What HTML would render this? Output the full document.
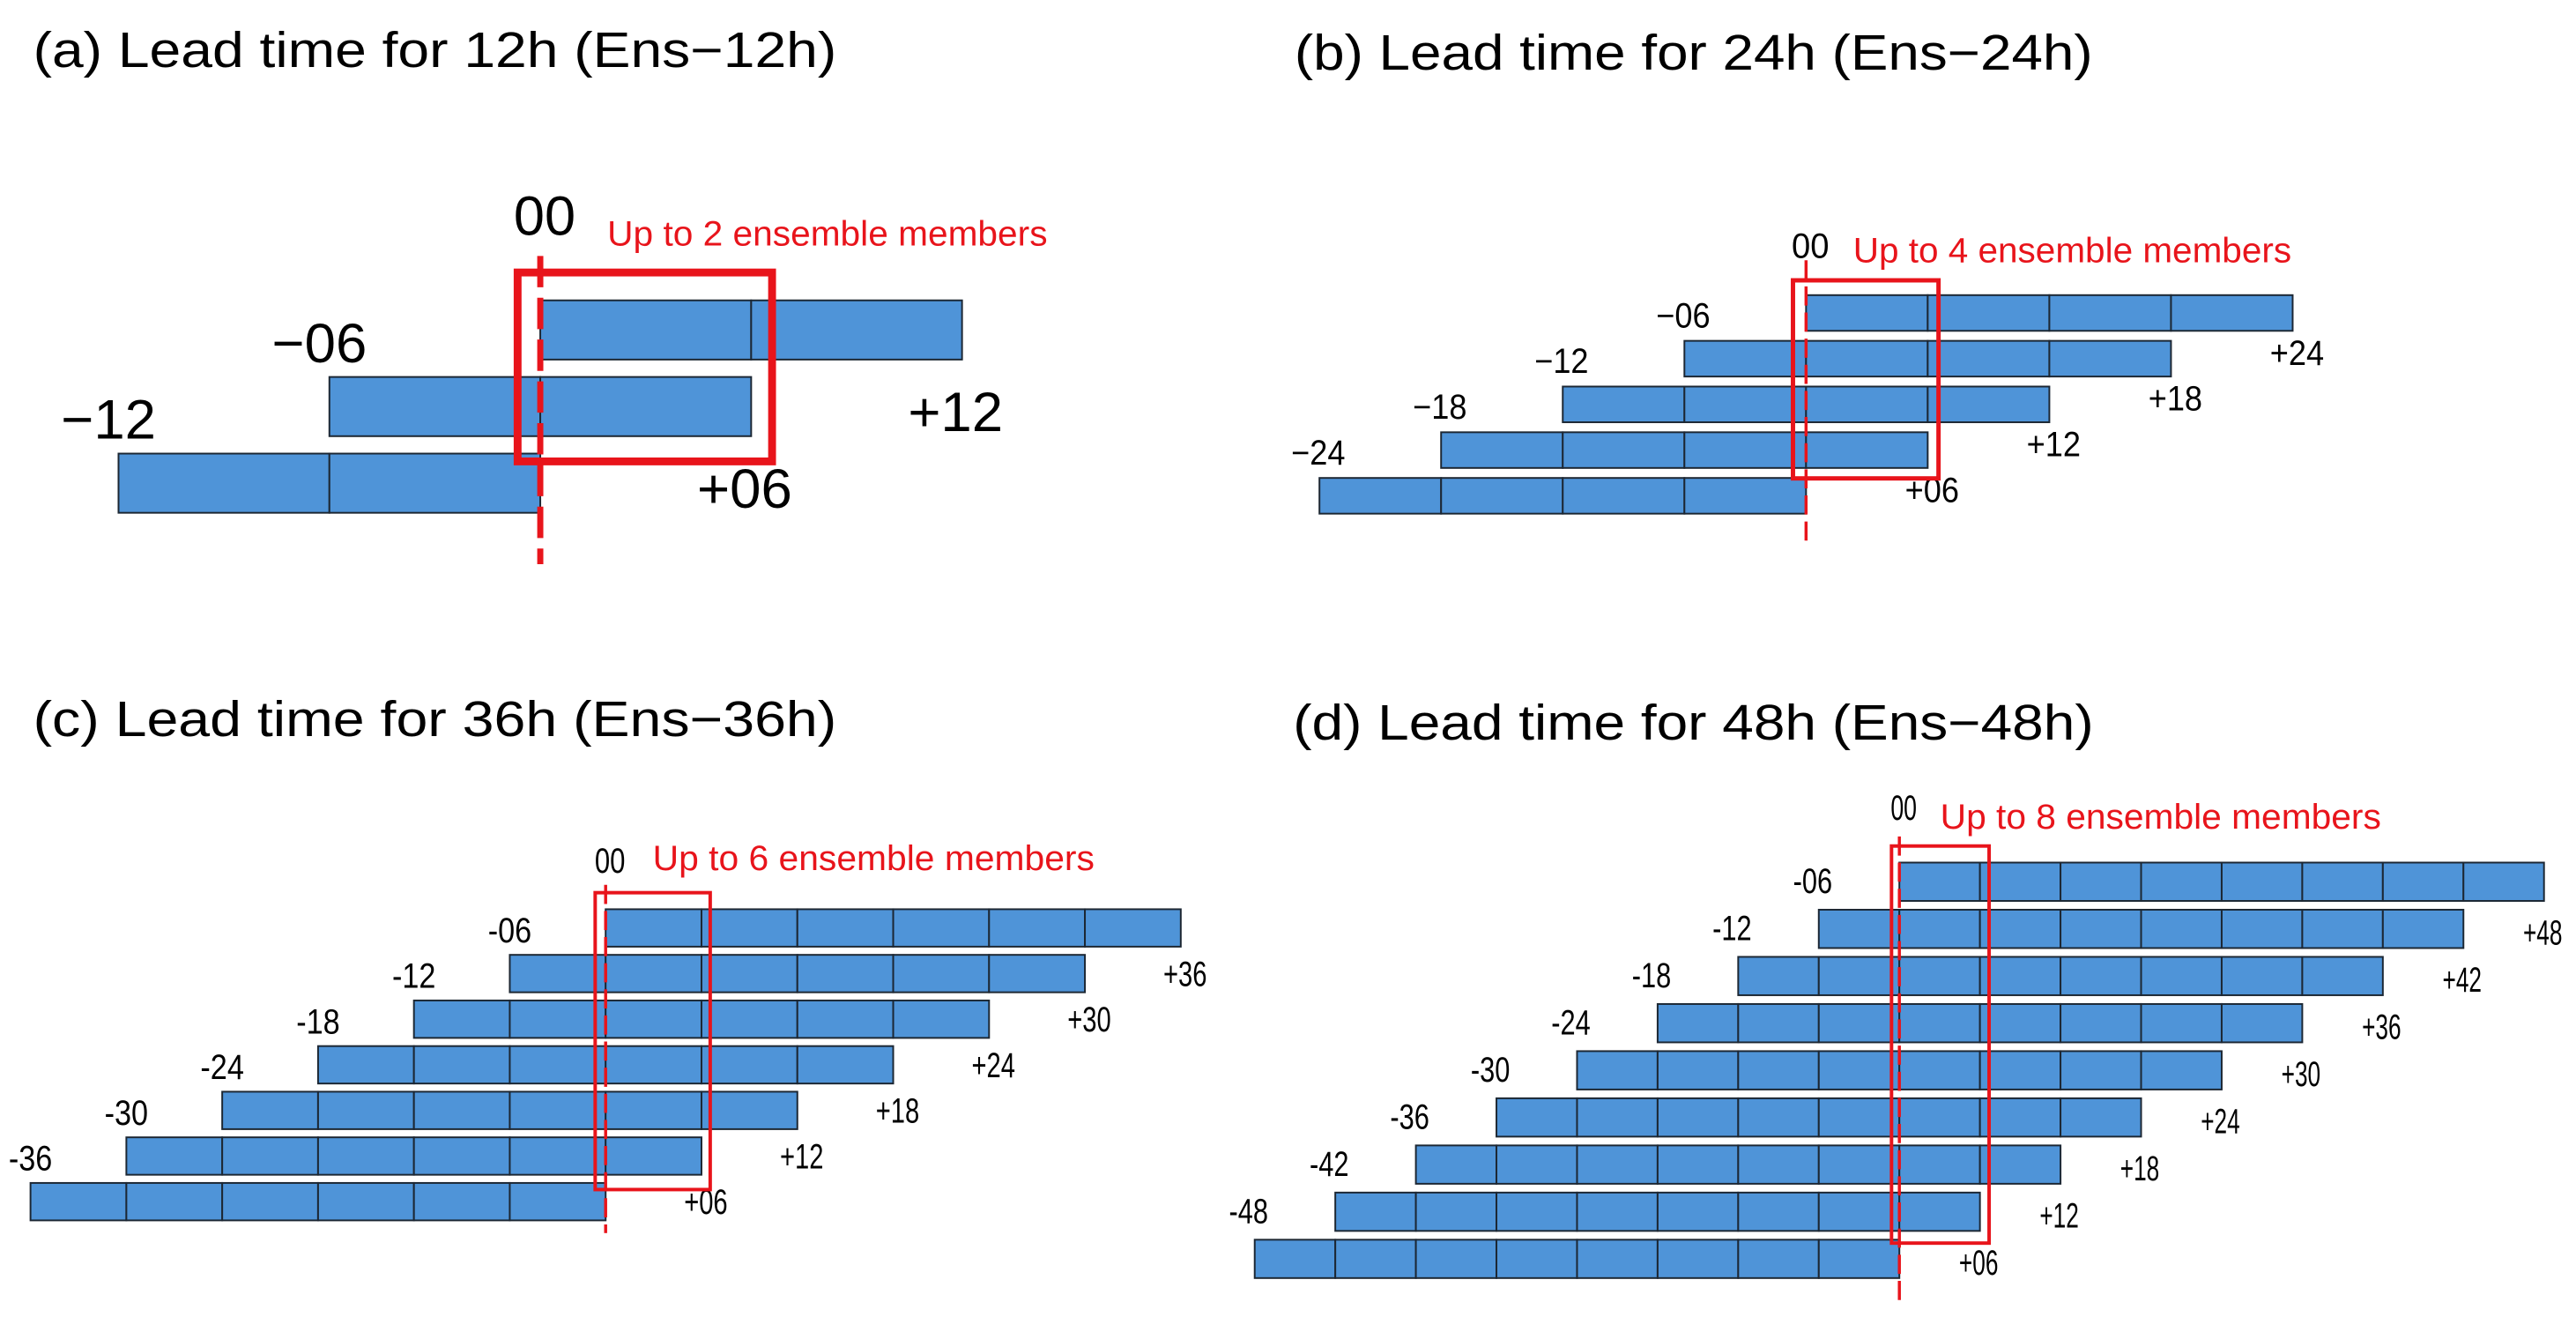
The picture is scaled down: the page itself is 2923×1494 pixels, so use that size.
<!DOCTYPE html>
<html><head><meta charset="utf-8"><style>
html,body{margin:0;padding:0;background:#fff;}
svg{display:block;}
text{font-family:"Liberation Sans",sans-serif;}
</style></head>
<body>
<svg id="fig" width="2923" height="1494" viewBox="0 0 2923 1494" xmlns="http://www.w3.org/2000/svg"></svg>
<script>
// ---- data (hours) ----
const titles = ["(a) Lead time for 12h (Ens\u221212h)","(b) Lead time for 24h (Ens\u221224h)","(c) Lead time for 36h (Ens\u221236h)","(d) Lead time for 48h (Ens\u221248h)"];
const memberNotes = ["Up to 2 ensemble members","Up to 4 ensemble members","Up to 6 ensemble members","Up to 8 ensemble members"];
const startsA = [0,-6,-12];
const endsA = [12,6,0];
const startsB = [0,-6,-12,-18,-24];
const endsB = [24,18,12,6,0];
const startsC = [0,-6,-12,-18,-24,-30,-36];
const endsC = [36,30,24,18,12,6,0];
const startsD = [0,-6,-12,-18,-24,-30,-36,-42,-48];
const endsD = [48,42,36,30,24,18,12,6,0];
const leftLabelsA = ["\u221206","\u221212"];
const leftLabelsB = ["\u221206","\u221212","\u221218","\u221224"];
const leftLabelsC = ["-06","-12","-18","-24","-30","-36"];
const leftLabelsD = ["-06","-12","-18","-24","-30","-36","-42","-48"];
const rightLabelsA = ["+12","+06"];
const rightLabelsB = ["+24","+18","+12","+06"];
const rightLabelsC = ["+36","+30","+24","+18","+12","+06"];
const rightLabelsD = ["+48","+42","+36","+30","+24","+18","+12","+06"];
const cellHours = 6;

// ---- layout (pixels) ----
const panels = [
 {starts:startsA, ends:endsA, L:leftLabelsA, R:rightLabelsA, x0:620, cell:242, top:345, pitch:88, h:68,
  ldx:-199, ldy:71, rdx:-62, rdy:150, lfs:64, lw:109, zfs:64, zw:71, zy:270, nx:697, ny:282, nfs:40, nw:505,
  tx:38, ty:77, tw:922, dash:[294,648], dw:7, da:"36 12", bx:[-26,266], by:[-32,29], bw:9,
  ox:0, oy:0, sx:0.9888, sy:0.9876},
 {starts:startsB, ends:endsB, L:leftLabelsB, R:rightLabelsB, x0:2056, cell:139.6, top:339, pitch:52.5, h:41,
  ldx:-110, ldy:37, rdx:-26, rdy:80, lfs:40, lw:62, zfs:40, zw:43, zy:296, nx:2110, ny:301, nfs:40, nw:503,
  tx:1469, ty:80, tw:916, dash:[299,622], dw:3.5, da:"22 8", bx:[-15,152], by:[-17,12], bw:5,
  ox:1461, oy:0, sx:0.9888, sy:0.9876},
 {starts:startsC, ends:endsC, L:leftLabelsC, R:rightLabelsC, x0:695, cell:110, top:1035, pitch:52.4, h:43,
  ldx:-85, ldy:38, rdx:-20, rdy:88, lfs:40, lw:50, zfs:40, zw:35, zy:993, nx:749, ny:990, nfs:40, nw:507,
  tx:38, ty:836, tw:922, dash:[1007,1407], dw:3.5, da:"22 8", bx:[-12,120], by:[-19,17], bw:4,
  ox:0, oy:747, sx:0.9888, sy:0.9876},
 {starts:startsD, ends:endsD, L:leftLabelsD, R:rightLabelsD, x0:2164, cell:92.5, top:980, pitch:54.1, h:44,
  ldx:-77, ldy:35, rdx:-24, rdy:94, lfs:40, lw:45, zfs:40, zw:30, zy:931, nx:2211, ny:941, nfs:40, nw:506,
  tx:1468, ty:839, tw:919, dash:[950,1486], dw:3.5, da:"22 8", bx:[-9,103], by:[-19,14], bw:4,
  ox:1400, oy:850, sx:0.9885, sy:0.9885}
];
const NS = "http://www.w3.org/2000/svg";
const svg = document.getElementById("fig");
function mk(tag, attrs, parent){ const e=document.createElementNS(NS,tag); for(const k in attrs) e.setAttribute(k,attrs[k]); (parent||svg).appendChild(e); return e; }
const letters = ["a","b","c","d"];
panels.forEach((p, pi) => {
  const g = mk("g", {transform:`translate(${p.ox},${p.oy}) scale(${p.sx},${p.sy}) translate(${-p.ox},${-p.oy})`});
  
  
  const xs = hr => p.x0 + hr / cellHours * p.cell;
  const ys = i => p.top + i * p.pitch;
  const t = mk("text", {x:p.tx, y:p.ty, "font-size":57, fill:"#000", textLength:p.tw, lengthAdjust:"spacingAndGlyphs"}, g);
  t.textContent = titles[pi];
  
  
  p.starts.forEach((s, i) => {
    const e = p.ends[i];
    const bar = mk("g", {}, g);
    
    
    for (let hr = s; hr < e; hr += cellHours) {
      const c = mk("rect", {x:xs(hr), y:ys(i), width:xs(hr+cellHours)-xs(hr), height:p.h, fill:"#4f94d8", stroke:"#1c2733", "stroke-width":2}, bar);
      
      
    }
  });
  p.L.forEach((lab, i) => {
    const tt = mk("text", {x:xs(p.starts[i]) + p.ldx, y:ys(i) + p.ldy, "font-size":p.lfs, "text-anchor":"end", fill:"#000", textLength:p.lw, lengthAdjust:"spacingAndGlyphs"}, g);
    tt.textContent = lab;
    
    
  });
  p.R.forEach((lab, i) => {
    const tt = mk("text", {x:xs(p.ends[i]) + p.rdx, y:ys(i) + p.rdy, "font-size":p.lfs, fill:"#000", textLength:p.lw, lengthAdjust:"spacingAndGlyphs"}, g);
    tt.textContent = lab;
    
    
  });
  const nr = p.starts.length - 1;
  const box = mk("rect", {x:xs(0)+p.bx[0], y:ys(0)+p.by[0], width:p.bx[1]-p.bx[0], height:ys(nr-1)+p.h+p.by[1]-(ys(0)+p.by[0]), fill:"none", stroke:"#e8141b", "stroke-width":p.bw}, g);
  
  
  const ln = mk("line", {x1:xs(0), x2:xs(0), y1:p.dash[0], y2:p.dash[1], stroke:"#e8141b", "stroke-width":p.dw, "stroke-dasharray":p.da}, g);
  
  
  const z = mk("text", {x:xs(0)+5, y:p.zy, "font-size":p.zfs, "text-anchor":"middle", fill:"#000", textLength:p.zw, lengthAdjust:"spacingAndGlyphs"}, g);
  z.textContent = "00";
  
  
  const n = mk("text", {x:p.nx, y:p.ny, "font-size":p.nfs, fill:"#e8141b", textLength:p.nw, lengthAdjust:"spacingAndGlyphs"}, g);
  n.textContent = memberNotes[pi];
  
  
});
</script>
</body></html>
